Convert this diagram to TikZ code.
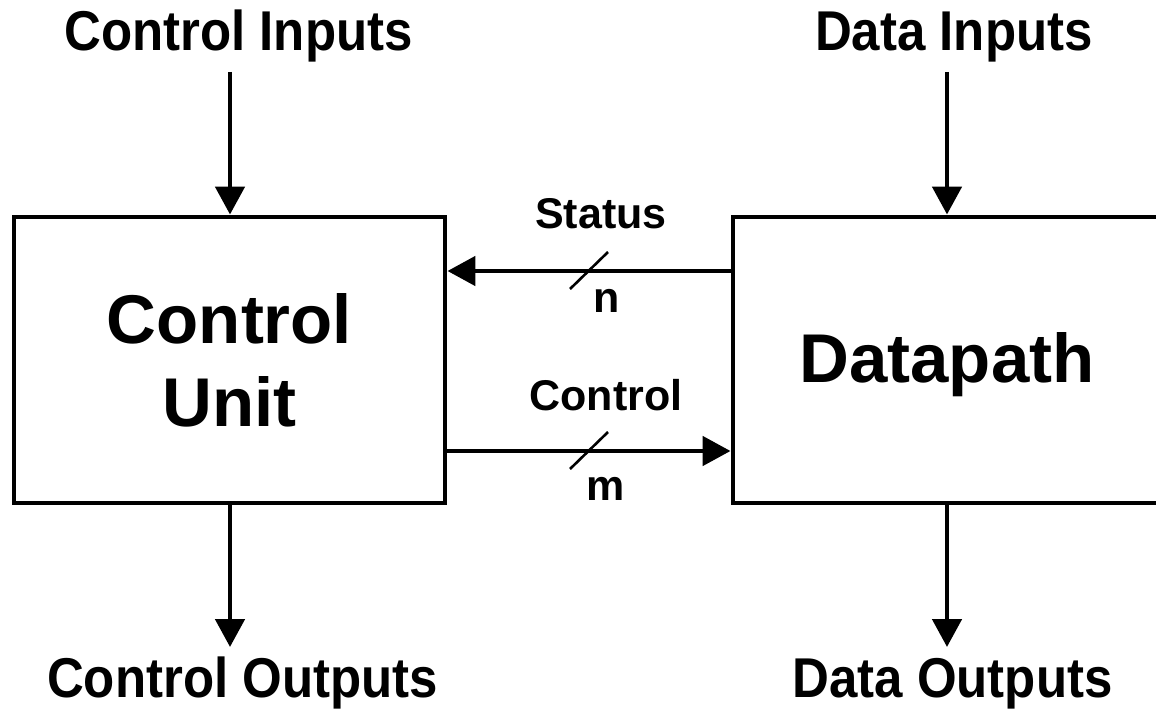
\documentclass[tikz,border=0pt]{standalone}
\usepackage{fontspec}
\setmainfont{Liberation Sans}
\usetikzlibrary{arrows.meta}
\newcommand{\tallertext}[1]{\scalebox{1}[1.1]{#1}}
\begin{document}
\begin{tikzpicture}[x=1pt,y=-1pt,
  box/.style={draw, line width=4.9pt, rectangle, inner sep=0pt, minimum height=286pt, align=center,
              font=\fontsize{69}{83}\selectfont\bfseries},
  conn/.style={line width=4.9pt, -{Triangle[length=28pt,width=29pt]}},
  biglab/.style={anchor=base, inner sep=0pt, font=\fontsize{51}{60}\selectfont\bfseries},
  smalllab/.style={anchor=base, inner sep=0pt, font=\fontsize{43}{50}\selectfont\bfseries},
  busmark/.style={line width=2.6pt}]
\clip (0,0) rectangle (1156,709);
\fill[white] (0,0) rectangle (1156,709);
% boxes
\node[box, minimum width=431pt] (cu) at (229.5,360) {Control\\Unit};
\node[box, minimum width=467pt] (dp) at (966.5,360) {};
\node[anchor=base, inner sep=0pt, font=\fontsize{69}{83}\selectfont\bfseries] (dpt) at (947,382) {Datapath};
% outer labels
\node[biglab] (ci) at (238.5,51) {\tallertext{Control Inputs}};
\node[biglab] (di) at (954,51) {\tallertext{Data Inputs}};
\node[biglab] (co) at (242.5,697) {\tallertext{Control Outputs}};
\node[biglab] (do) at (952.5,697) {\tallertext{Data Outputs}};
% input / output arrows
\coordinate (cistart) at (230,72);
\coordinate (distart) at (947,72);
\coordinate (coend) at (230,647);
\coordinate (doend) at (947,647);
\draw[conn] (cistart) -- (cistart |- cu.north);
\draw[conn] (distart) -- (distart |- dp.north);
\draw[conn] (coend |- cu.south) -- (coend);
\draw[conn] (doend |- dp.south) -- (doend);
% status / control buses
\coordinate (sty) at (0,271);
\coordinate (cty) at (0,451);
\draw[conn] (dp.west |- sty) -- (cu.east |- sty);
\draw[conn] (cu.east |- cty) -- (dp.west |- cty);
\coordinate (s1) at (570,289); \coordinate (s2) at (608,252);
\coordinate (m1) at (570,469); \coordinate (m2) at (608,432);
\draw[busmark] (s1) -- (s2);
\draw[busmark] (m1) -- (m2);
\node[smalllab] (stl) at (601,228) {Status};
\node[smalllab] (nl) at (607,312) {n};
\node[smalllab] (ctl) at (606,410) {Control};
\node[smalllab] (ml) at (606,500) {m};
\end{tikzpicture}
\end{document}
